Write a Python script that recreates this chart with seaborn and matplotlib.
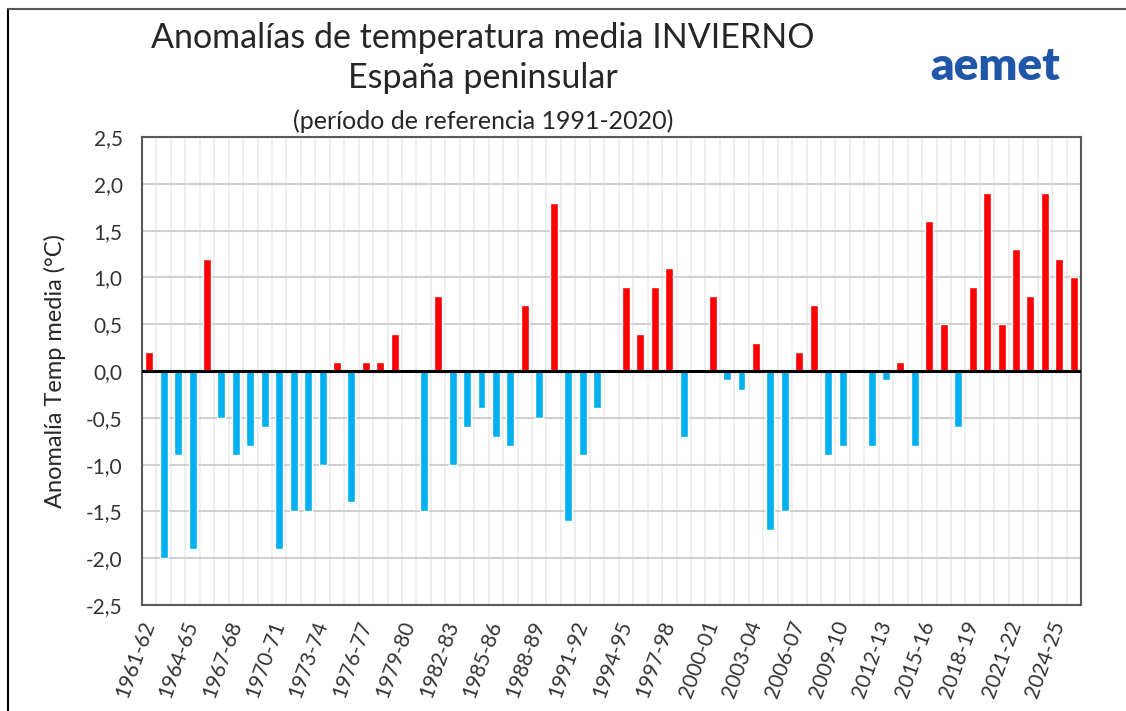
import numpy as np
import pandas as pd
import matplotlib
matplotlib.use("Agg")
import matplotlib.pyplot as plt
from matplotlib.lines import Line2D
import seaborn as sns

# Winter seasons 1961-62 .. 2025-26
first_years = list(range(1961, 2026))
seasons = [f"{y}-{str(y + 1)[-2:]}" for y in first_years]

# Anomalies (degC)
anomalies = [
    0.2, -2.0, -0.9, -1.9, 1.2, -0.5, -0.9, -0.8, -0.6, -1.9,
    -1.5, -1.5, -1.0, 0.1, -1.4, 0.1, 0.1, 0.4, 0.0, -1.5,
    0.8, -1.0, -0.6, -0.4, -0.7, -0.8, 0.7, -0.5, 1.8, -1.6,
    -0.9, -0.4, 0.0, 0.9, 0.4, 0.9, 1.1, -0.7, 0.0, 0.8,
    -0.1, -0.2, 0.3, -1.7, -1.5, 0.2, 0.7, -0.9, -0.8, 0.0,
    -0.8, -0.1, 0.1, -0.8, 1.6, 0.5, -0.6, 0.9, 1.9, 0.5,
    1.3, 0.8, 1.9, 1.2, 1.0,
]

y_ticks = [-2.5, -2.0, -1.5, -1.0, -0.5, 0.0, 0.5, 1.0, 1.5, 2.0, 2.5]

df = pd.DataFrame({"season": seasons, "anom": anomalies})
df["sign"] = np.where(df["anom"] >= 0, "pos", "neg")

sns.set_style("white")
plt.rcParams["font.family"] = ["Lato", "DejaVu Sans"]

fig = plt.figure(figsize=(11.26, 7.11), dpi=100)
ax = fig.add_axes([142 / 1126, 1 - 605 / 711, (1081 - 142) / 1126, (605 - 137) / 711])

sns.barplot(data=df, x="season", y="anom", hue="sign", order=seasons,
            hue_order=["pos", "neg"], palette={"pos": "#FF0000", "neg": "#00B0F0"},
            saturation=1, dodge=False, width=0.55, legend=False, ax=ax, zorder=3)

ax.set_ylim(-2.5, 2.5)
ax.set_xlim(-0.5, len(seasons) - 0.5)
ax.set_yticks(y_ticks)
ax.set_yticklabels([f"{v:.1f}".replace(".", ",") for v in y_ticks], fontsize=15, color="#333333")

# labels every 3 seasons
idx = list(range(0, len(seasons), 3))
ax.set_xticks(idx)
ax.set_xticklabels([seasons[i] for i in idx], rotation=70, ha="right", va="center",
                   rotation_mode="anchor", fontsize=15, color="#333333")
ax.tick_params(axis="x", length=0, pad=12)
ax.tick_params(axis="y", length=0, pad=14)

# grid
ax.set_xticks(np.arange(-0.5, len(seasons), 1), minor=True)
ax.grid(axis="x", which="minor", color="#ececec", linewidth=1.2, zorder=0)
ax.grid(axis="y", which="major", color="#d0d0d0", linewidth=1.5, zorder=0)
ax.axhline(0, color="black", linewidth=2.2, zorder=4)

for s in ax.spines.values():
    s.set_color("#595959")
    s.set_linewidth(1.5)

ax.set_xlabel("")
ax.set_ylabel("Anomalía Temp media (°C)", fontsize=17, color="#262626", labelpad=14)

# titles
fig.text(483 / 1126, 1 - 38 / 711, "Anomalías de temperatura media INVIERNO",
         ha="center", va="center", fontsize=24.5)
fig.text(483 / 1126, 1 - 78 / 711, "España peninsular",
         ha="center", va="center", fontsize=24.5)
fig.text(483 / 1126, 1 - 121 / 711, "(período de referencia 1991-2020)",
         ha="center", va="center", fontsize=18)

# logo as text
fig.text(1060 / 1126, 1 - 66 / 711, "aemet", ha="right", va="center",
         fontsize=33, fontweight="heavy", color="#1f56a8")

# outer frame (left and top edge)
fig.add_artist(Line2D([8 / 1126, 8 / 1126], [0, 1 - 9 / 711], color="black", linewidth=1.5))
fig.add_artist(Line2D([8 / 1126, 1], [1 - 9 / 711, 1 - 9 / 711], color="#555555", linewidth=1.5))

fig.savefig("out.png", dpi=100)
